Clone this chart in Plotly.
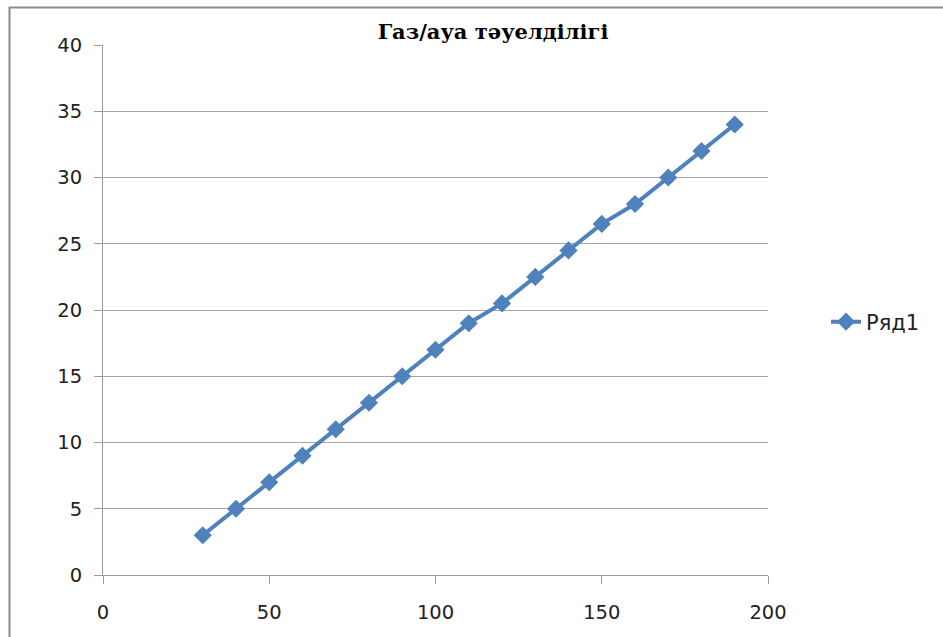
import plotly.graph_objects as go

x_vals = [30, 40, 50, 60, 70, 80, 90, 100, 110, 120, 130, 140, 150, 160, 170, 180, 190]
y_vals = [3, 5, 7, 9, 11, 13, 15, 17, 19, 20.5, 22.5, 24.5, 26.5, 28, 30, 32, 34]
series_name = "Ряд1"
title_text = "Газ/ауа тәуелділігі"

W, H = 943, 637
L, R, T, B = 103, 175, 45, 62

fig = go.Figure()
fig.add_trace(go.Scatter(
    x=x_vals, y=y_vals, name=series_name, mode="lines+markers",
    line=dict(color="#4F81BD", width=4),
    marker=dict(symbol="diamond", size=14, color="#4F81BD"),
))

pw = W - L - R
ph = H - T - B
fig.add_shape(type="rect", xref="paper", yref="paper",
              x0=(9.5 - L) / pw, x1=1.5, y0=-0.5, y1=1 + (T - 7.5) / ph,
              line=dict(color="#8a8a8a", width=2), fillcolor="rgba(0,0,0,0)", layer="below")

tick_font = dict(family="DejaVu Sans", size=19.5, color="#222")

fig.update_layout(
    width=W, height=H,
    margin=dict(l=L, r=R, t=T, b=B),
    paper_bgcolor="white", plot_bgcolor="white",
    title=dict(text="<b>" + title_text + "</b>", x=493 / W, xanchor="center",
               y=1 - 32 / H, yanchor="middle",
               font=dict(family="DejaVu Serif", size=21, color="black")),
    showlegend=True,
    legend=dict(x=(826 - L) / pw, xanchor="left", y=(H - B - 322) / ph, yanchor="middle",
                font=dict(family="DejaVu Sans", size=21, color="#222"),
                bgcolor="rgba(0,0,0,0)"),
    font=dict(family="DejaVu Sans", size=19, color="#222"),
)
fig.update_xaxes(range=[0, 200], dtick=50, tick0=0, showgrid=False, zeroline=False,
                 showline=True, linecolor="#9a9a9a", linewidth=1,
                 ticks="outside", ticklen=8, tickcolor="#9a9a9a",
                 ticklabelstandoff=12, tickfont=tick_font)
fig.update_yaxes(range=[0, 40], dtick=5, tick0=0, showgrid=True, gridcolor="#a6a6a6", gridwidth=1,
                 zeroline=False, showline=True, linecolor="#9a9a9a", linewidth=1,
                 ticks="outside", ticklen=8, tickcolor="#9a9a9a",
                 ticklabelstandoff=8, tickfont=tick_font)

fig.write_html("out.html")
